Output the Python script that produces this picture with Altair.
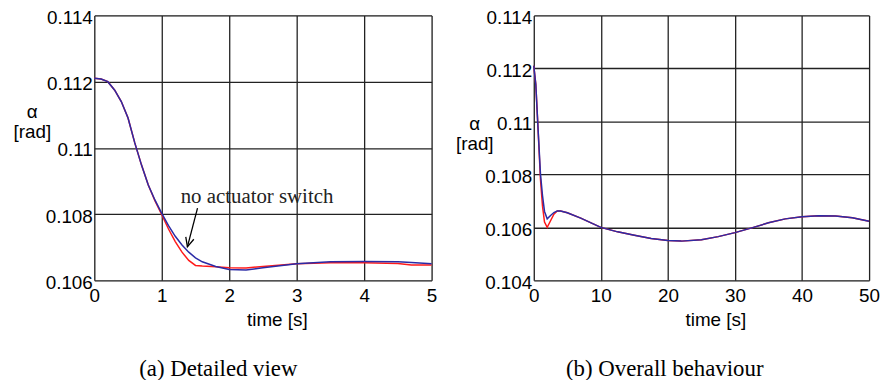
import altair as alt
import pandas as pd

# ---------------- data ----------------
t_detail = [0, 0.1, 0.2, 0.3, 0.4, 0.5, 0.6, 0.7, 0.8, 0.9, 1.0, 1.1, 1.2, 1.3, 1.4,
            1.5, 1.6, 1.8, 2.0, 2.25, 2.5, 3.0, 3.5, 4.0, 4.5, 4.7, 5.0]
red_detail = [0.11210, 0.11208, 0.11200, 0.11175, 0.11140, 0.11090, 0.11015, 0.10948,
              0.10888, 0.10840, 0.10798, 0.10755, 0.10717, 0.10685, 0.10660, 0.10645,
              0.10643, 0.10641, 0.10638, 0.10637, 0.10642, 0.10650, 0.10653, 0.10653,
              0.10651, 0.10646, 0.10646]
blue_detail = [0.11210, 0.11208, 0.11200, 0.11175, 0.11140, 0.11090, 0.11015, 0.10948,
               0.10888, 0.10842, 0.10802, 0.10765, 0.10733, 0.10707, 0.10685, 0.10668,
               0.10656, 0.10642, 0.10633, 0.10631, 0.10638, 0.10650, 0.10656, 0.10657,
               0.10656, 0.10654, 0.10650]

t_overall = [0, 0.3, 0.6, 1.0, 1.3, 1.6, 2.0, 2.5, 3.0, 3.5, 4.0, 5, 7, 10, 12.5, 15,
             17.5, 20, 22, 25, 27.5, 30, 32.5, 35, 37.5, 40, 42.5, 45, 47.5, 50]
red_overall = [0.11210, 0.11140, 0.10990, 0.10780, 0.10680, 0.10620, 0.10600, 0.10625,
               0.10650, 0.10662, 0.10662, 0.10655, 0.10635, 0.10600, 0.10583, 0.10570,
               0.10558, 0.10550, 0.10548, 0.10553, 0.10565, 0.10580, 0.10598, 0.10617,
               0.10632, 0.10640, 0.10644, 0.10643, 0.10636, 0.10623]
blue_overall = [0.11210, 0.11140, 0.10990, 0.10800, 0.10720, 0.10660, 0.10632, 0.10645,
                0.10656, 0.10662, 0.10662, 0.10655, 0.10635, 0.10600, 0.10583, 0.10570,
                0.10558, 0.10550, 0.10548, 0.10553, 0.10565, 0.10580, 0.10598, 0.10617,
                0.10632, 0.10640, 0.10644, 0.10643, 0.10636, 0.10623]

x_ticks_detail = [0, 1, 2, 3, 4, 5]
y_ticks_detail = [0.106, 0.108, 0.11, 0.112, 0.114]
x_ticks_overall = [0, 10, 20, 30, 40, 50]
y_ticks_overall = [0.104, 0.106, 0.108, 0.11, 0.112, 0.114]

annotation_text = ["no actuator switch"]
annotation_pos = [(1.28, 0.10851)]            # text anchor (t, alpha)
arrow_shaft = [(1.53, 0.10818), (1.38, 0.10701)]
arrow_head = [(1.475, 0.10724), (1.38, 0.10701), (1.356, 0.10731)]

captions = ["(a) Detailed view", "(b) Overall behaviour"]

RED = "#ff1a1a"
BLUE = "#2b2ba6"
SANS = "Liberation Sans"
SERIF = "Liberation Serif"
FS = 19


def panel(t, red, blue, xt, yt, width, height, title_x, title_y, caption, cap_dx, extra=None):
    df_r = pd.DataFrame({"t": t, "v": red})
    df_b = pd.DataFrame({"t": t, "v": blue})
    xs = alt.Scale(domain=[xt[0], xt[-1]], nice=False, zero=False)
    ys = alt.Scale(domain=[yt[0], yt[-1]], nice=False, zero=False)
    xax = alt.Axis(values=xt, format="d", grid=True, gridColor="#222", gridWidth=1.3,
                   gridOpacity=1, tickSize=0, domain=False, labelFont=SANS,
                   labelFontSize=FS, labelColor="black", labelPadding=6,
                   labelFlush=False, labelOverlap=False,
                   title="time [s]", titleFont=SANS, titleFontSize=FS,
                   titleFontWeight="normal", titleColor="black", titlePadding=6,
                   titleX=width / 2 + 14)
    yax = alt.Axis(values=yt, format=".3~f", grid=True, gridColor="#222", gridWidth=1.3,
                   gridOpacity=1, tickSize=0, domain=False, labelFont=SANS,
                   labelFontSize=FS, labelColor="black", labelPadding=2,
                   labelOffset=2, labelFlush=False, labelOverlap=False,
                   title=["α", "[rad]"], titleFont=SANS, titleFontSize=FS,
                   titleFontWeight="normal", titleColor="black", titleAngle=0,
                   titleAlign="center", titleBaseline="top", titleLineHeight=20,
                   titleX=title_x, titleY=title_y)
    base_r = alt.Chart(df_r).mark_line(color=RED, strokeWidth=1.5).encode(
        x=alt.X("t:Q", scale=xs, axis=xax), y=alt.Y("v:Q", scale=ys, axis=yax))
    base_b = alt.Chart(df_b).mark_line(color=BLUE, strokeWidth=1.5).encode(
        x=alt.X("t:Q", scale=xs), y=alt.Y("v:Q", scale=ys))
    layers = [base_r, base_b]
    if extra:
        layers += extra(xs, ys)
    return alt.layer(*layers).properties(
        width=width, height=height,
        title=alt.TitleParams(caption, orient="bottom", font=SERIF, fontSize=23,
                              fontWeight="normal", color="black", anchor="middle",
                              dx=cap_dx, offset=28))


def annotations(xs, ys):
    df_txt = pd.DataFrame({"t": [p[0] for p in annotation_pos],
                           "v": [p[1] for p in annotation_pos],
                           "label": annotation_text})
    txt = alt.Chart(df_txt).mark_text(font=SERIF, fontSize=21, align="left",
                                      baseline="middle", color="#222").encode(
        x=alt.X("t:Q", scale=xs), y=alt.Y("v:Q", scale=ys), text="label:N")
    df_shaft = pd.DataFrame({"t": [arrow_shaft[0][0]], "v": [arrow_shaft[0][1]],
                             "t2": [arrow_shaft[1][0]], "v2": [arrow_shaft[1][1]]})
    shaft = alt.Chart(df_shaft).mark_rule(color="black", strokeWidth=1.3).encode(
        x=alt.X("t:Q", scale=xs), y=alt.Y("v:Q", scale=ys), x2="t2:Q", y2="v2:Q")
    df_head = pd.DataFrame({"t": [p[0] for p in arrow_head],
                            "v": [p[1] for p in arrow_head],
                            "o": list(range(len(arrow_head)))})
    head = alt.Chart(df_head).mark_line(color="black", strokeWidth=1.3).encode(
        x=alt.X("t:Q", scale=xs), y=alt.Y("v:Q", scale=ys), order="o:Q")
    return [shaft, head, txt]


left = panel(t_detail, red_detail, blue_detail, x_ticks_detail, y_ticks_detail,
             340, 267, -63, 88, captions[0], -45, annotations)
right = panel(t_overall, red_overall, blue_overall, x_ticks_overall, y_ticks_overall,
              338, 267, -60, 100, captions[1], -37)

chart = alt.hconcat(left, right, spacing=17).properties(
    padding={"left": 4, "top": -2, "right": 0, "bottom": 0}
).configure_view(stroke="black", strokeWidth=1.5).configure(background="white")

chart.save("out.html", embed_options={"renderer": "svg", "actions": False})
